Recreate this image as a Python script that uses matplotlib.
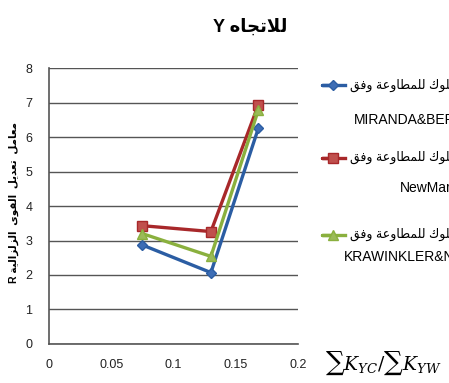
import matplotlib
matplotlib.use("Agg")
import matplotlib.pyplot as plt

# data
x_ratio = [0.075, 0.13, 0.168]
r_miranda = [2.87, 2.07, 6.25]
r_newmark = [3.43, 3.26, 6.93]
r_krawinkler = [3.2, 2.54, 6.78]

x_ticks = [0, 0.05, 0.1, 0.15, 0.2]
x_tick_labels = ["0", "0.05", "0.1", "0.15", "0.2"]
y_ticks = [0, 1, 2, 3, 4, 5, 6, 7, 8]

series_names = ["MIRANDA&BERTERO", "NewMark", "KRAWINKLER&NASSAR"]
legend_ar = "معامل السلوك للمطاوعة وفق"
title_ar = "للاتجاه"
ylabel_ar = "معامل  تعديل  القوى  الزلزالية"

# simple arabic shaping (presentation forms) since matplotlib has no bidi
# forms: isolated, final, initial, medial
FORMS = {
    "ا": (0xFE8D, 0xFE8E, None, None),
    "ة": (0xFE93, 0xFE94, None, None),
    "ت": (0xFE95, 0xFE96, 0xFE97, 0xFE98),
    "ج": (0xFE9D, 0xFE9E, 0xFE9F, 0xFEA0),
    "د": (0xFEA9, 0xFEAA, None, None),
    "ز": (0xFEAF, 0xFEB0, None, None),
    "س": (0xFEB1, 0xFEB2, 0xFEB3, 0xFEB4),
    "ط": (0xFEC1, 0xFEC2, 0xFEC3, 0xFEC4),
    "ع": (0xFEC9, 0xFECA, 0xFECB, 0xFECC),
    "ف": (0xFED1, 0xFED2, 0xFED3, 0xFED4),
    "ق": (0xFED5, 0xFED6, 0xFED7, 0xFED8),
    "ك": (0xFED9, 0xFEDA, 0xFEDB, 0xFEDC),
    "ل": (0xFEDD, 0xFEDE, 0xFEDF, 0xFEE0),
    "م": (0xFEE1, 0xFEE2, 0xFEE3, 0xFEE4),
    "ه": (0xFEE9, 0xFEEA, 0xFEEB, 0xFEEC),
    "و": (0xFEED, 0xFEEE, None, None),
    "ى": (0xFEEF, 0xFEF0, None, None),
    "ي": (0xFEF1, 0xFEF2, 0xFEF3, 0xFEF4),
    "LA": (0xFEFB, 0xFEFC, None, None),
}


def shape_word(word):
    toks = []
    i = 0
    while i < len(word):
        if word[i] == "ل" and i + 1 < len(word) and word[i + 1] == "ا":
            toks.append("LA")
            i += 2
        else:
            toks.append(word[i])
            i += 1
    out = []
    for k, t in enumerate(toks):
        f = FORMS[t]
        prev_joins = k > 0 and FORMS[toks[k - 1]][2] is not None
        next_joins = k < len(toks) - 1 and f[2] is not None
        if prev_joins and next_joins:
            c = f[3]
        elif prev_joins:
            c = f[1]
        elif next_joins:
            c = f[2]
        else:
            c = f[0]
        out.append(chr(c))
    return "".join(out)


def ar(text):
    words = [shape_word(w) if w else "" for w in text.split(" ")]
    return " ".join(words)[::-1]


fam = ["Liberation Sans", "DejaVu Sans"]
plt.rcParams["font.family"] = fam
plt.rcParams["mathtext.fontset"] = "dejavuserif"

fig = plt.figure(figsize=(4.49, 3.83), dpi=100)
ax = fig.add_axes([0.109, 0.102, 0.555, 0.72])

colors = ["#2B5DA3", "#A8282A", "#8AB03E"]
faces = ["#3D6DB5", "#C0504D", "#9BBB59"]
markers = ["D", "s", "^"]
msizes = [5, 7, 7]
all_r = [r_miranda, r_newmark, r_krawinkler]

for r, c, fc, m, ms in zip(all_r, colors, faces, markers, msizes):
    ax.plot(x_ratio, r, color=c, lw=2.4, marker=m, ms=ms,
            mfc=fc, mec=c, mew=1, zorder=3)

ax.set_xlim(0, 0.2)
ax.set_ylim(0, 8)
ax.set_xticks(x_ticks)
ax.set_xticklabels(x_tick_labels)
ax.set_yticks(y_ticks)
ax.tick_params(length=0, labelsize=9, colors="#222222")
ax.tick_params(axis="y", pad=12)
ax.tick_params(axis="x", pad=11)
ax.grid(axis="y", color="#555555", lw=1)
ax.set_axisbelow(True)
for s in ["top", "right"]:
    ax.spines[s].set_visible(False)
for s in ["left", "bottom"]:
    ax.spines[s].set_color("#555555")
    ax.spines[s].set_linewidth(1.2)

# title
fig.text(0.557, 0.928, "Y " + ar(title_ar), ha="center", va="center",
         fontsize=13, fontweight="bold", family=fam)

# y label (rotated)
fig.text(0.031, 0.47, "R " + ar(ylabel_ar), rotation=90, ha="center",
         va="center", fontsize=7.5, fontweight="bold", family=fam)

# x label
fig.text(0.724, 0.052, r"$\sum K_{YC}/\sum K_{YW}$", ha="left",
         va="center", fontsize=13.5)

# legend, cut by the figure edge as in the reference
leg_y = [0.778, 0.588, 0.387]
leg_y2 = [0.687, 0.509, 0.329]
name_x = [0.788, 0.891, 0.766]
for k in range(3):
    ln = plt.Line2D([0.742, 0.717, 0.768], [leg_y[k]] * 3,
                    transform=fig.transFigure, color=colors[k],
                    lw=2.4, marker=markers[k], ms=msizes[k],
                    markevery=[0], mfc=faces[k], mec=colors[k])
    fig.lines.append(ln)
    fig.text(0.779, leg_y[k], ar(legend_ar), ha="left", va="center",
             fontsize=9, family=fam)
    fig.text(name_x[k], leg_y2[k], series_names[k], ha="left", va="center",
             fontsize=10, family=fam)

fig.savefig("out.png", dpi=100)
